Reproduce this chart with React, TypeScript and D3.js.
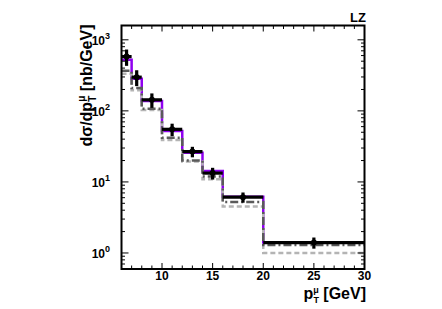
import React from 'react';
import * as d3 from 'd3';

const binEdges = [6, 7, 8, 10, 12, 14, 16, 20, 30];
const dataValues = [580, 298, 143, 55, 26.7, 13.3, 6.1, 1.4];
const dataErrors = [150, 75, 33, 11, 4.5, 2.5, 1.0, 0.25];
const purpleValues = [525, 282, 138, 52, 25.7, 14.2, 6.2, 1.4];
const dashDotValues = [366, 209, 107, 42, 20, 11.9, 5.2, 1.3];
const dashedValues = [332, 195, 103, 39, 19.4, 10.9, 4.5, 1.0];
const xTicks = [10, 15, 20, 25, 30];
const yTicks = [1, 10, 100, 1000];

const W = 442;
const H = 309;
const left = 121.5;
const right = 364.5;
const top = 25.5;
const bottom = 269;

const x = d3.scaleLinear().domain([6, 30]).range([left, right]);
const y = d3.scaleLog().domain([0.595, 1590]).range([bottom, top]);

const font = '"Liberation Sans", Arial, Helvetica, sans-serif';

function stepPath(values: number[]) {
  const pts: [number, number][] = [];
  values.forEach((v, i) => {
    pts.push([x(binEdges[i]), y(v)]);
    pts.push([x(binEdges[i + 1]), y(v)]);
  });
  return d3.line()(pts) || '';
}

export default function App() {
  const minorX = d3.range(6, 31, 1);
  const minorY: number[] = [];
  for (let e = -1; e <= 3; e++) {
    for (let m = 1; m <= 9; m++) {
      const v = m * Math.pow(10, e);
      if (v >= 0.595 && v <= 1590) minorY.push(v);
    }
  }
  return (
    <svg width={W} height={H} style={{ position: 'absolute', left: 0, top: 0 }}>
      <rect width={W} height={H} fill="#fff" />
      <path d={stepPath(purpleValues)} fill="none" stroke="#9000f0" strokeWidth={2.5} />
      <path d={stepPath(dashedValues)} fill="none" stroke="#b4b4b4" strokeWidth={2.5} strokeDasharray="5,3" />
      <path d={stepPath(dashDotValues)} fill="none" stroke="#5a5a5a" strokeWidth={2.5} strokeDasharray="8,3,2,3" />
      {dataValues.map((v, i) => {
        const xc = x((binEdges[i] + binEdges[i + 1]) / 2);
        return (
          <g key={i} stroke="#000" strokeWidth={3.2}>
            <line x1={x(binEdges[i])} x2={x(binEdges[i + 1])} y1={y(v)} y2={y(v)} />
            <line x1={xc} x2={xc} y1={y(v + dataErrors[i])} y2={y(v - dataErrors[i])} />
            <circle cx={xc} cy={y(v)} r={3} fill="#000" stroke="none" />
          </g>
        );
      })}
      {minorX.map((t) => {
        const major = t % 5 === 0;
        const len = major ? 6 : 3.5;
        return (
          <g key={'x' + t} stroke="#000" strokeWidth={1}>
            <line x1={x(t)} x2={x(t)} y1={bottom} y2={bottom - len} />
            <line x1={x(t)} x2={x(t)} y1={top} y2={top + len} />
          </g>
        );
      })}
      {minorY.map((t) => {
        const major = yTicks.includes(t);
        const len = major ? 7 : 3.5;
        return (
          <g key={'y' + t} stroke="#000" strokeWidth={1}>
            <line x1={left} x2={left + len} y1={y(t)} y2={y(t)} />
            <line x1={right} x2={right - len} y1={y(t)} y2={y(t)} />
          </g>
        );
      })}
      <rect x={left} y={top} width={right - left} height={bottom - top} fill="none" stroke="#000" strokeWidth={2} />
      {xTicks.map((t) => (
        <text key={'xl' + t} x={x(t)} y={280} textAnchor="middle" fontFamily={font} fontWeight="bold" fontSize={12}>
          {t}
        </text>
      ))}
      {yTicks.map((t) => (
        <text key={'yl' + t} x={110} y={y(t) + 5} textAnchor="end" fontFamily={font} fontWeight="bold" fontSize={12}>
          10
          <tspan dy={-6} fontSize={9}>{Math.round(Math.log10(t))}</tspan>
        </text>
      ))}
      <text x={366} y={22} textAnchor="end" fontFamily={font} fontWeight="bold" fontSize={13}>LZ</text>
      <text x={366} y={299} textAnchor="end" fontFamily={font} fontWeight="bold" fontSize={16}>
        p<tspan dy={-6} fontSize={9}>μ</tspan>
        <tspan dx={-5.5} dy={10} fontSize={9}>T</tspan>
        <tspan dy={-4}> [GeV]</tspan>
      </text>
      <text transform={`translate(92,${top - 1}) rotate(-90)`} textAnchor="end" fontFamily={font} fontWeight="bold" fontSize={16}>
        dσ/dp<tspan dy={-7} fontSize={10}>μ</tspan>
        <tspan dx={-6} dy={11} fontSize={10}>T</tspan>
        <tspan dy={-4}> [nb/GeV]</tspan>
      </text>
    </svg>
  );
}
